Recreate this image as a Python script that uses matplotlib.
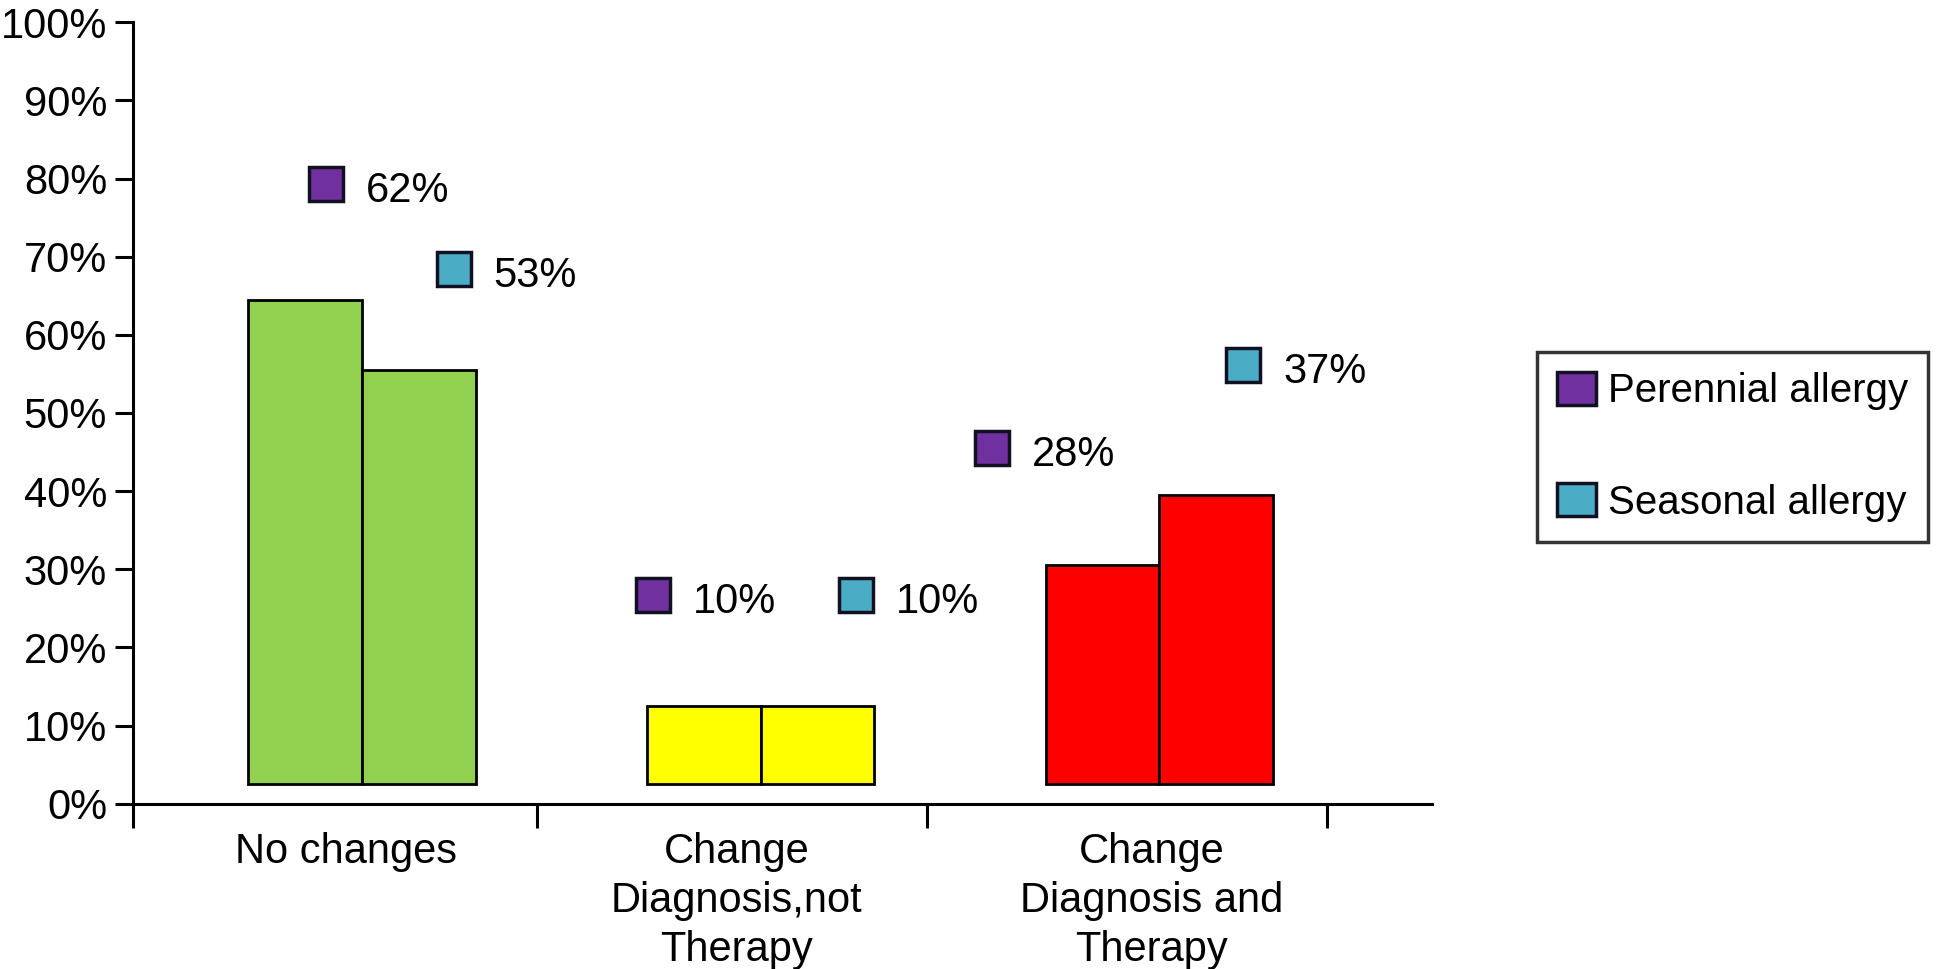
import numpy as np
import matplotlib.pyplot as plt
from matplotlib.patches import Patch

plt.rcParams['font.family'] = ['Liberation Sans', 'DejaVu Sans']

# Data
categories = ["No changes", "Change\nDiagnosis,not\nTherapy", "Change\nDiagnosis and\nTherapy"]
perennial = [62, 10, 28]
seasonal = [53, 10, 37]
series_names = ["Perennial allergy", "Seasonal allergy"]
yticks = list(range(0, 101, 10))

# colours
bar_colors = ["#92D050", "#FFFF00", "#FF0000"]
c_per = "#7030A0"
c_sea = "#4BACC6"

# layout of the floating value markers (x offset from category, height in %)
per_marker = [(-0.09, 79.3), (-0.27, 26.7), (-0.42, 45.5)]
sea_marker = [(0.23, 68.4), (0.24, 26.7), (0.21, 56.1)]
base = 2.5
width = 0.285
fs = 30

fig = plt.figure(figsize=(19.36, 9.69), dpi=100)
ax = fig.add_axes([0.0689, 0.1705, 0.6709, 0.8066])

x = np.arange(len(categories))
for i in x:
    ax.bar(i - width / 2, perennial[i], width, bottom=base, color=bar_colors[i],
           edgecolor="black", linewidth=2)
    ax.bar(i + width / 2, seasonal[i], width, bottom=base, color=bar_colors[i],
           edgecolor="black", linewidth=2)

for i in x:
    for (dx, yy), val, col in [(per_marker[i], perennial[i], c_per), (sea_marker[i], seasonal[i], c_sea)]:
        ax.plot(i + dx, yy, marker="s", markersize=24, markerfacecolor=col,
                markeredgecolor="#111122", markeredgewidth=2.5, linestyle="none", clip_on=False)
        ax.text(i + dx + 0.1, yy - 0.9, f"{val}%", fontsize=fs, va="center", ha="left")

ax.set_xlim(-0.573, 2.684)
ax.set_ylim(0, 100)
ax.set_yticks(yticks)
ax.set_yticklabels([f"{t}%" for t in yticks], fontsize=fs)

ax.set_xticks([-0.04, 0.94, 1.98])
ax.set_xticklabels(categories, fontsize=fs, linespacing=1.3)
ax.set_xticks([-0.573, 0.44, 1.418, 2.42], minor=True)
ax.tick_params(axis="x", which="major", length=0, pad=20)
ax.tick_params(axis="x", which="minor", length=17, width=2.2, direction="out")
ax.tick_params(axis="y", length=13, width=2.2, pad=6)

for s in ["top", "right"]:
    ax.spines[s].set_visible(False)
for s in ["left", "bottom"]:
    ax.spines[s].set_linewidth(2.2)

handles = [Patch(facecolor=c_per, edgecolor="#111122", linewidth=2.5),
           Patch(facecolor=c_sea, edgecolor="#111122", linewidth=2.5)]
leg = fig.legend(handles, series_names, loc="upper left", bbox_to_anchor=(0.794, 0.637),
                 fontsize=29, frameon=True, fancybox=False, borderaxespad=0,
                 handlelength=0.95, handleheight=0.9, handletextpad=0.3,
                 labelspacing=1.8, borderpad=0.5)
leg.get_frame().set_edgecolor("black")
leg.get_frame().set_linewidth(2.5)

fig.savefig("out.png", dpi=100)
